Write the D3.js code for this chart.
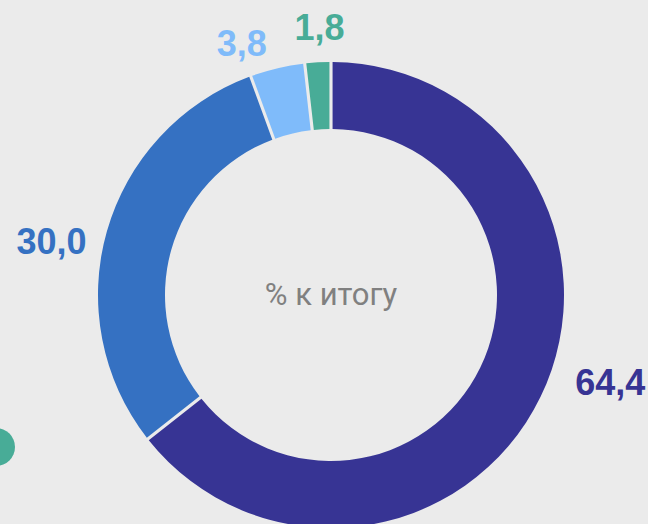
<!DOCTYPE html>
<html lang="ru">
<head>
    <meta charset="UTF-8">
    <title>% к итогу</title>
    <style>
        html, body { margin: 0; padding: 0; background: #ebebeb; }
        svg { display: block; }
    </style>
</head>
<body>
<script src="https://d3js.org/d3.v7.min.js" type="text/javascript"></script>
<script>
    // data
    var categories = ['a', 'b', 'c', 'd'];
    var values = [64.4, 30.0, 3.8, 1.8];
    var valueLabels = ['64,4', '30,0', '3,8', '1,8'];
    var centerTitle = '% к итогу';

    var width = 648;
    var height = 524;
    var cx = 331, cy = 295;
    var outerR = 233, innerR = 166;

    var colors = d3.scaleOrdinal()
        .domain(categories)
        .range(['#373494', '#3571c2', '#7fbbfa', '#48ac97']);

    // hand nudges for the outside labels (layout only)
    var labelNudge = { a: [32, -33], b: [-15, 21], c: [-26, 16], d: [4, 7] };

    var svg = d3.select('body')
        .append('svg')
        .attr('width', width)
        .attr('height', height);

    var pie = d3.pie().sort(null).value(function (d, i) { return values[i]; });
    var arcs = pie(categories);

    var arc = d3.arc()
        .innerRadius(innerR)
        .outerRadius(outerR)
        .padAngle(0.011);

    var labelArc = d3.arc().innerRadius(275).outerRadius(275);

    var g = svg.append('g')
        .attr('transform', 'translate(' + cx + ',' + cy + ')');

    g.selectAll('path')
        .data(arcs)
        .enter()
        .append('path')
        .attr('d', arc)
        .attr('fill', function (d) { return colors(d.data); });

    g.selectAll('text.lbl')
        .data(arcs)
        .enter()
        .append('text')
        .attr('class', 'lbl')
        .attr('transform', function (d) {
            var c = labelArc.centroid(d);
            var n = labelNudge[d.data];
            return 'translate(' + (c[0] + n[0]) + ',' + (c[1] + n[1]) + ')';
        })
        .attr('text-anchor', 'middle')
        .attr('dy', '0.36em')
        .style('font-family', '"Liberation Sans", Arial, sans-serif')
        .style('font-weight', 'bold')
        .style('font-size', '36px')
        .attr('fill', function (d) { return colors(d.data); })
        .text(function (d, i) { return valueLabels[i]; });

    // centre caption
    g.append('text')
        .attr('text-anchor', 'middle')
        .attr('dy', '0.35em')
        .attr('y', -1)
        .style('font-family', 'Roboto, Arial, sans-serif')
        .style('font-size', '31px')
        .attr('fill', '#808080')
        .text(centerTitle);

    // cut-off marker at the left edge
    svg.append('circle')
        .attr('cx', -4)
        .attr('cy', 447)
        .attr('r', 19)
        .attr('fill', colors('d'));
</script>
</body>
</html>
